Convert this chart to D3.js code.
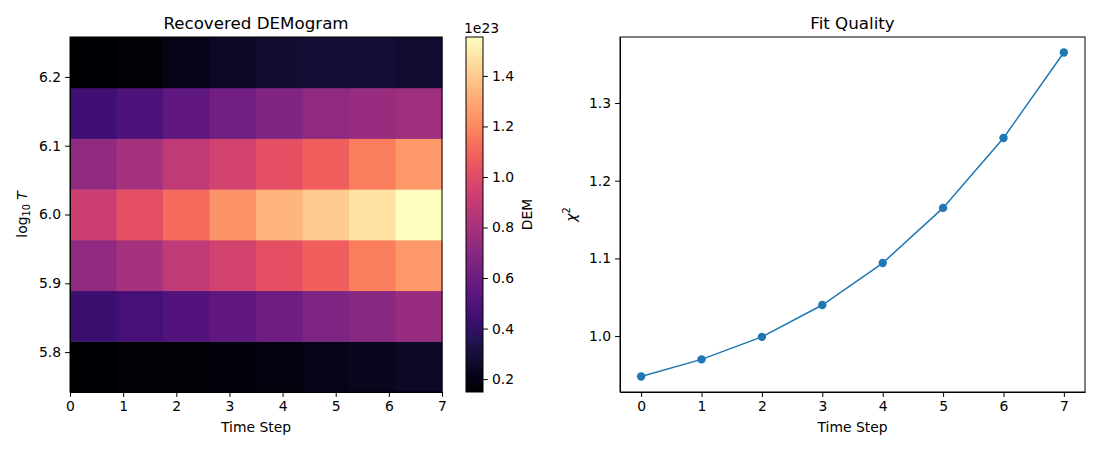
<!DOCTYPE html>
<html>
<head>
<meta charset="utf-8">
<script src="https://d3js.org/d3.v7.min.js"></script>
<style>
  body { margin: 0; background: #fff; }
  svg text { font-family: "DejaVu Sans", sans-serif; fill: #000; }
  .tick text { font-size: 13.9px; }
  .tick line, .domain { stroke: #000; }
</style>
</head>
<body>
<svg id="fig" width="1100" height="450"></svg>
<script>
// data
var timeSteps = [0, 1, 2, 3, 4, 5, 6, 7];
var logT = [5.779, 5.853, 5.926, 6.0, 6.074, 6.147, 6.221];
// DEM in units of 1e23, rows bottom (5.78) to top (6.22)
var dem = [
  [0.15, 0.16, 0.17, 0.18, 0.19, 0.21, 0.23, 0.25],
  [0.43, 0.47, 0.51, 0.56, 0.61, 0.66, 0.70, 0.75],
  [0.72, 0.80, 0.88, 0.95, 1.02, 1.08, 1.17, 1.25],
  [0.92, 1.02, 1.12, 1.24, 1.33, 1.40, 1.47, 1.55],
  [0.72, 0.80, 0.88, 0.95, 1.02, 1.08, 1.17, 1.25],
  [0.45, 0.50, 0.56, 0.62, 0.67, 0.72, 0.75, 0.77],
  [0.15, 0.17, 0.21, 0.25, 0.28, 0.29, 0.29, 0.27]
];
var chi2 = [0.948, 0.970, 0.999, 1.040, 1.094, 1.165, 1.255, 1.365];

var svg = d3.select('#fig');

// ---- heatmap ----
var hm = {left: 70, right: 442, top: 37, bottom: 392};
var x1 = d3.scaleLinear().domain([0, 7]).range([hm.left, hm.right]);
var y1 = d3.scaleLinear().domain([5.742, 6.258]).range([hm.bottom, hm.top]);
var cmin = 0.149, cmax = 1.554;
var color = d3.scaleSequential(d3.interpolateMagma).domain([cmin, cmax]);

var colW = 7 / timeSteps.length;
var rowH = (6.258 - 5.742) / logT.length;
var cells = [];
dem.forEach(function(row, i) {
  row.forEach(function(v, j) { cells.push({i: i, j: j, v: v}); });
});
svg.append('g').selectAll('rect').data(cells).enter().append('rect')
  .attr('x', d => x1(d.j * colW))
  .attr('width', d => x1((d.j + 1) * colW) - x1(d.j * colW) + 0.5)
  .attr('y', d => y1(5.742 + (d.i + 1) * rowH))
  .attr('height', d => y1(5.742 + d.i * rowH) - y1(5.742 + (d.i + 1) * rowH) + 0.5)
  .attr('fill', d => color(d.v));

svg.append('rect').attr('x', hm.left).attr('y', hm.top)
  .attr('width', hm.right - hm.left).attr('height', hm.bottom - hm.top)
  .attr('fill', 'none').attr('stroke', '#000');

svg.append('g').attr('transform', 'translate(0,' + hm.bottom + ')')
  .call(d3.axisBottom(x1).ticks(8).tickSize(4.9).tickPadding(4).tickSizeOuter(0));
svg.append('g').attr('transform', 'translate(' + hm.left + ',0)')
  .call(d3.axisLeft(y1).tickValues([5.8, 5.9, 6.0, 6.1, 6.2]).tickFormat(d3.format('.1f')).tickSize(4.9).tickPadding(4).tickSizeOuter(0));

svg.append('text').attr('x', (hm.left + hm.right) / 2).attr('y', 29)
  .attr('text-anchor', 'middle').style('font-size', '16.7px').text('Recovered DEMogram');
svg.append('text').attr('x', (hm.left + hm.right) / 2).attr('y', 432)
  .attr('text-anchor', 'middle').style('font-size', '13.9px').text('Time Step');
var yl = svg.append('text').attr('transform', 'translate(27,' + (hm.top + hm.bottom) / 2 + ') rotate(-90)')
  .attr('text-anchor', 'middle').style('font-size', '13.9px');
yl.append('tspan').text('log');
yl.append('tspan').attr('dy', 3).style('font-size', '9.7px').text('10');
yl.append('tspan').attr('dy', -3).text(' ');
yl.append('tspan').style('font-style', 'italic').text('T');

// colorbar
var cb = {left: 466, right: 483};
var cy = d3.scaleLinear().domain([cmin, cmax]).range([hm.bottom, hm.top]);
var defs = svg.append('defs');
var grad = defs.append('linearGradient').attr('id', 'cbg')
  .attr('x1', 0).attr('y1', 1).attr('x2', 0).attr('y2', 0);
d3.range(0, 1.0001, 0.05).forEach(function(t) {
  grad.append('stop').attr('offset', t).attr('stop-color', d3.interpolateMagma(t));
});
svg.append('rect').attr('x', cb.left).attr('y', hm.top)
  .attr('width', cb.right - cb.left).attr('height', hm.bottom - hm.top)
  .attr('fill', 'url(#cbg)').attr('stroke', '#000');
svg.append('g').attr('transform', 'translate(' + cb.right + ',0)')
  .call(d3.axisRight(cy).tickValues([0.2, 0.4, 0.6, 0.8, 1.0, 1.2, 1.4]).tickFormat(d3.format('.1f')).tickSize(4.9).tickPadding(4).tickSizeOuter(0))
  .select('.domain').remove();
svg.append('text').attr('x', cb.left - 2).attr('y', 33).style('font-size', '13.9px').text('1e23');
svg.append('text').attr('transform', 'translate(532,' + (hm.top + hm.bottom) / 2 + ') rotate(-90)')
  .attr('text-anchor', 'middle').style('font-size', '13.9px').text('DEM');

// ---- fit quality ----
var fq = {left: 620, right: 1085, top: 37, bottom: 392};
var x2 = d3.scaleLinear().domain([-0.35, 7.35]).range([fq.left, fq.right]);
var y2 = d3.scaleLinear().domain([0.928, 1.385]).range([fq.bottom, fq.top]);

svg.append('rect').attr('x', fq.left).attr('y', fq.top)
  .attr('width', fq.right - fq.left).attr('height', fq.bottom - fq.top)
  .attr('fill', 'none').attr('stroke', '#000');
svg.append('g').attr('transform', 'translate(0,' + fq.bottom + ')')
  .call(d3.axisBottom(x2).tickValues(timeSteps).tickSize(4.9).tickPadding(4).tickSizeOuter(0));
svg.append('g').attr('transform', 'translate(' + fq.left + ',0)')
  .call(d3.axisLeft(y2).tickValues([1.0, 1.1, 1.2, 1.3]).tickFormat(d3.format('.1f')).tickSize(4.9).tickPadding(4).tickSizeOuter(0));

var line = d3.line().x((d, i) => x2(timeSteps[i])).y(d => y2(d));
svg.append('path').datum(chi2).attr('d', line)
  .attr('fill', 'none').attr('stroke', '#1f77b4').attr('stroke-width', 1.5);
svg.append('g').selectAll('circle').data(chi2).enter().append('circle')
  .attr('cx', (d, i) => x2(timeSteps[i])).attr('cy', d => y2(d))
  .attr('r', 4.2).attr('fill', '#1f77b4');

svg.append('text').attr('x', (fq.left + fq.right) / 2).attr('y', 29)
  .attr('text-anchor', 'middle').style('font-size', '16.7px').text('Fit Quality');
svg.append('text').attr('x', (fq.left + fq.right) / 2).attr('y', 432)
  .attr('text-anchor', 'middle').style('font-size', '13.9px').text('Time Step');
var cl = svg.append('text').attr('transform', 'translate(576,' + (fq.top + fq.bottom) / 2 + ') rotate(-90)')
  .attr('text-anchor', 'middle').style('font-size', '13.9px');
cl.append('tspan').style('font-style', 'italic').text('χ');
cl.append('tspan').attr('dy', -6).style('font-size', '9.7px').text('2');
</script>
</body>
</html>
